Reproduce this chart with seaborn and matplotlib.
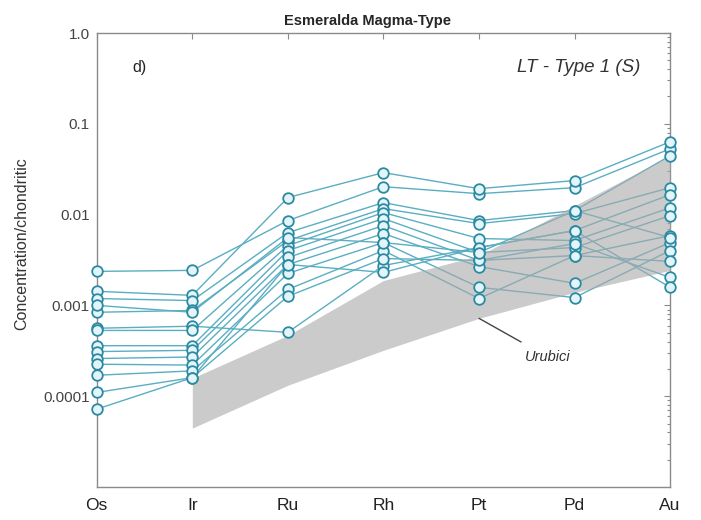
import numpy as np
import pandas as pd
import matplotlib
matplotlib.use("Agg")
import matplotlib.pyplot as plt
import seaborn as sns
from matplotlib.ticker import LogLocator, NullFormatter, FixedLocator, FixedFormatter

# PGE elements (chondrite-normalised)
elements = ["Os", "Ir", "Ru", "Rh", "Pt", "Pd", "Au"]

# Esmeralda LT - Type 1 (S) samples, concentration / chondritic
s01 = [0.00237, 0.00243, 0.0086, 0.0203, 0.0170, 0.0198, 0.0531]
s02 = [0.00143, 0.00129, 0.0154, 0.0290, 0.0193, 0.0237, 0.0634]
s03 = [0.00119, 0.00113, 0.00634, 0.01355, 0.0086, 0.01107, 0.0445]
s04 = [0.00084, 0.00088, 0.00518, 0.01164, 0.00796, 0.01026, 0.0198]
s05 = [0.00056, 0.00059, 0.000505, 0.00275, 0.00434, 0.00667, 0.0166]
s06 = [0.00053, 0.00053, 0.00456, 0.01052, 0.00545, 0.00518, 0.0119]
s07 = [0.00036, 0.00036, 0.00402, 0.00904, 0.00382, 0.00434, 0.00975]
s08 = [0.00031, 0.00032, 0.00337, 0.00757, 0.00313, 0.00354, 0.00588]
s09 = [0.00026, 0.00027, 0.00282, 0.00618, 0.00268, 0.00175, 0.00492]
s10 = [0.000225, 0.00022, 0.00225, 0.00492, 0.00158, 0.00122, 0.00402]
s11 = [0.00017, 0.00019, 0.0015, 0.00402, 0.00119, 0.00354, 0.00305]
s12 = [0.00011, 0.00016, 0.00126, 0.00328, 0.00313, 0.0048, 0.00203]
s13 = [0.000072, 0.00016, 0.00282, 0.00231, 0.00434, 0.00667, 0.00158]
s14 = [0.00100, 0.00084, 0.00559, 0.00492, 0.00382, 0.01107, 0.00559]
samples = [s01, s02, s03, s04, s05, s06, s07, s08, s09, s10, s11, s12, s13, s14]

# Urubici field envelope (Ir to Au)
urubici_elements = ["Ir", "Ru", "Rh", "Pt", "Pd", "Au"]
urubici_upper = [0.000158, 0.000468, 0.00188, 0.00354, 0.01256, 0.0445]
urubici_lower = [0.0000445, 0.000132, 0.00032, 0.00072, 0.00139, 0.00243]

y_ticks = [0.0001, 0.001, 0.01, 0.1, 1.0]
y_ticklabels = ["0.0001", "0.001", "0.01", "0.1", "1.0"]

rows = []
for i, vals in enumerate(samples):
    for j, (el, v) in enumerate(zip(elements, vals)):
        rows.append({"sample": f"S{i + 1}", "element": el, "pos": j, "value": v})
df = pd.DataFrame(rows)

sns.set_theme(style="white")
plt.rcParams["font.family"] = ["Liberation Sans", "DejaVu Sans"]

fig = plt.figure(figsize=(7.01, 5.2), dpi=100)
ax = fig.add_axes([0.138, 0.0635, 0.818, 0.873])

line_col = "#5aaec2"
edge_col = "#2b8aa3"
face_col = "#e4f5f9"

sns.lineplot(data=df, x="pos", y="value", units="sample", estimator=None,
             color=line_col, linewidth=1.0, ax=ax, zorder=2, legend=False)

# Urubici shaded field
upos = [elements.index(e) for e in urubici_elements]
ax.fill_between(upos, urubici_lower, urubici_upper, color="#a9a9a9",
                alpha=0.6, linewidth=0, zorder=3)

sns.scatterplot(data=df, x="pos", y="value", marker="o", s=58,
                facecolor=face_col, edgecolor=edge_col, linewidth=1.3,
                ax=ax, zorder=4, legend=False, clip_on=False)

ax.set_yscale("log")
ax.set_ylim(1e-5, 1.0)
ax.set_xlim(0, len(elements) - 1)

ax.xaxis.set_major_locator(FixedLocator(range(len(elements))))
ax.set_xticklabels(elements, fontsize=12.5, color="#222222")
ax.yaxis.set_major_locator(FixedLocator(y_ticks))
ax.yaxis.set_major_formatter(FixedFormatter(y_ticklabels))
ax.yaxis.set_minor_locator(LogLocator(base=10, subs=np.arange(2, 10), numticks=20))
ax.yaxis.set_minor_formatter(NullFormatter())
ax.tick_params(axis="y", labelsize=11, labelcolor="#444444", pad=5)
ax.tick_params(which="both", direction="in", top=True, right=True,
               color="#8a8a8a", width=0.8)
ax.tick_params(which="major", length=4)
ax.tick_params(which="minor", length=2.5)
ax.tick_params(axis="x", pad=8)

for sp in ax.spines.values():
    sp.set_color("#8a8a8a")
    sp.set_linewidth(1.0)

ax.set_xlabel("")
ax.set_ylabel("Concentration/chondritic", fontsize=11.5, color="#333333")
ax.yaxis.set_label_coords(-0.118, 0.535)
ax.set_title("Esmeralda Magma-Type", fontsize=10.5, fontweight="bold",
             x=0.473, pad=6)

ax.text(0.062, 0.925, "d)", transform=ax.transAxes, fontsize=11.5,
        color="#222222", ha="left", va="center")
ax.text(0.948, 0.925, "LT - Type 1 (S)", transform=ax.transAxes, fontsize=13.5,
        style="italic", color="#333333", ha="right", va="center")

ax.annotate("Urubici", xy=(4.0, 0.00072), xytext=(4.72, 0.00027),
            fontsize=10.5, style="italic", color="#333333", ha="center", va="center",
            arrowprops=dict(arrowstyle="-", color="#444444", lw=1.0,
                            shrinkA=7, shrinkB=0), zorder=5)

fig.savefig("out.png", dpi=100)
